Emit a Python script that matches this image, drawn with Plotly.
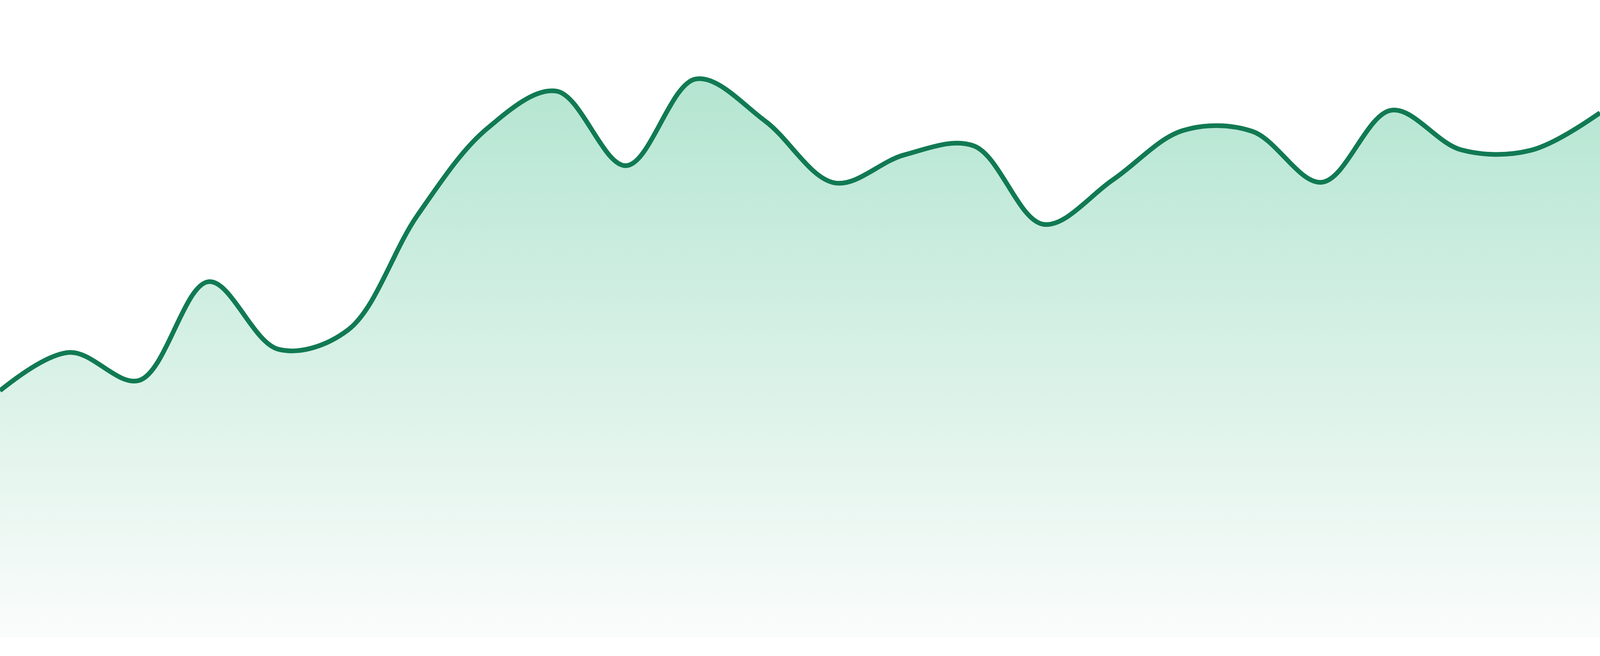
import plotly.graph_objects as go

# Data
x_index = list(range(24))
values = [38.7, 44.7, 40.3, 55.8, 45.2, 48.2, 66.2, 79.8, 85.7, 74.0, 87.6, 81.0,
          71.3, 75.7, 77.1, 64.8, 71.8, 79.5, 79.4, 71.4, 82.7, 76.5, 76.4, 82.3]

LINE_COLOR = "#117a53"
FILL_TOP = "rgb(170,226,203)"
FILL_BOTTOM = "rgb(250,252,251)"

fig = go.Figure()
fig.add_trace(go.Scatter(
    x=x_index,
    y=values,
    mode="lines",
    line=dict(color=LINE_COLOR, width=12, shape="spline", smoothing=1.0),
    fill="tozeroy",
    fillgradient=dict(
        type="vertical",
        colorscale=[[0, FILL_BOTTOM], [1, FILL_TOP]],
        start=0,
        stop=100,
    ),
    hoverinfo="skip",
    showlegend=False,
))

fig.update_layout(
    autosize=True,
    margin=dict(l=0, r=0, t=0, b=0, pad=0),
    paper_bgcolor="white",
    plot_bgcolor="white",
    xaxis=dict(visible=False, range=[0, 23], fixedrange=True),
    # bottom band of white below the baseline: 48 of 1680 px
    yaxis=dict(visible=False, range=[-2.941, 100], fixedrange=True),
    showlegend=False,
)

post = """
var gd = document.getElementById('{plot_id}');
document.documentElement.style.margin = '0';
document.documentElement.style.overflow = 'hidden';
document.body.style.margin = '0';
document.body.style.overflow = 'hidden';
var W = window.innerWidth, H = window.innerHeight;
gd.style.width = W + 'px';
gd.style.height = H + 'px';
var s = H / 1680;
Plotly.relayout(gd, {width: W, height: H});
Plotly.restyle(gd, {'line.width': 12 * s});
"""

fig.write_html(
    "out.html",
    config={"displayModeBar": False, "staticPlot": True},
    post_script=post,
)
